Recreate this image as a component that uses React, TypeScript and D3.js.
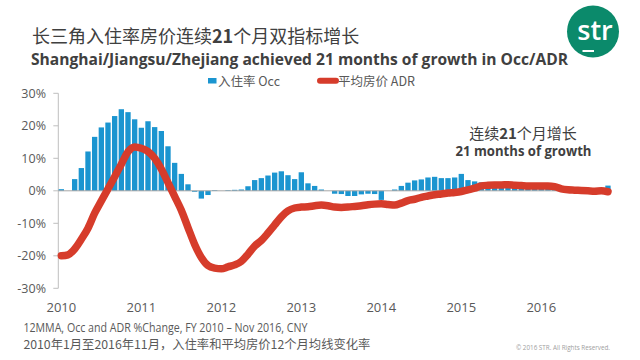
import React from 'react';
import * as d3 from 'd3';

// monthly 12MMA % change, Jan 2010 - Nov 2016
const occ = [
  0.5, 0, 3.6, 7.0, 12.1, 16.6, 19.5, 21.0, 23.0, 25.1, 24.2, 22.0,
  19.4, 21.4, 19.6, 18.4, 13.7, 8.6, 5.2, 2.0, -0.3, -2.4, -1.3, 0.2,
  0.0, 0.2, 0.3, 0.4, 1.4, 3.3, 3.9, 4.7, 5.6, 6.0, 4.8, 3.6,
  5.7, 2.3, 1.5, 0.4, 0.0, -0.9, -1.0, -1.6, -1.6, -1.1, -0.9, -1.0,
  -2.8, 0.0, 0.4, 1.5, 2.5, 3.2, 3.5, 4.1, 4.3, 3.9, 3.9, 4.1,
  5.2, 3.3, 2.9, 2.6, 2.0, 1.8, 1.6, 1.5, 1.4, 1.4, 1.3, 1.3,
  1.2, 1.2, 1.1, 1.0, 0.9, 0.8, 0.8, 0.7, 0.8, 0.9, 1.6,
];

const adr = [
  -20.0, -19.7, -17.9, -14.9, -11.5, -6.9, -3.1, 0.6, 4.3, 8.2, 12.0, 13.5,
  13.1, 12.1, 10.0, 6.7, 2.5, -1.7, -6.0, -11.3, -16.5, -20.5, -23.0, -23.8,
  -24.0, -23.4, -22.8, -21.7, -19.5, -17.0, -15.3, -13.0, -10.5, -8.0, -6.2, -5.3,
  -5.0, -4.9, -4.6, -4.4, -4.6, -5.0, -5.1, -5.0, -4.8, -4.6, -4.3, -4.1,
  -4.0, -4.2, -4.4, -3.8, -3.0, -2.6, -2.0, -1.6, -1.2, -1.0, -0.7, -0.5,
  -0.2, 0.3, 0.8, 1.5, 1.7, 1.8, 1.8, 1.9, 1.7, 1.6, 1.5, 1.5,
  1.5, 1.5, 1.3, 0.6, 0.3, 0.2, 0.1, 0.0, -0.1, 0.0, -0.3,
];

const years = ['2010', '2011', '2012', '2013', '2014', '2015', '2016'];
const yTicks = [30, 20, 10, 0, -10, -20, -30];

const W = 640;
const H = 360;
const cjk = '"Noto Sans CJK SC", "Noto Sans", sans-serif';
const latin = '"Open Sans", "Noto Sans CJK SC", sans-serif';
const grey = '#595959';
const blue = '#1b95d0';
const red = '#d63c2b';

export default function App() {
  const months = d3.range(occ.length);
  const x = d3.scaleBand<number>().domain(months).range([58, 611.3]).paddingInner(0.2).paddingOuter(0.1);
  const cx = (i: number) => (x(i) as number) + x.bandwidth() / 2;
  const y = d3.scaleLinear().domain([-30, 30]).range([288.3, 93.3]);

  const line = d3.line<number>()
    .x((_, i) => cx(i))
    .y(d => y(d))
    .curve(d3.curveMonotoneX);

  return (
    <svg width={W} height={H} style={{ position: 'absolute', left: 0, top: 0, background: '#fff' }}>
      {/* titles */}
      <text x={32} y={43} fontFamily={cjk} fontSize={18} fill="#404040">
        长三角入住率房价连续<tspan fontWeight="bold">21</tspan>个月双指标增长
      </text>
      <text x={31} y={64.5} fontFamily={latin} fontSize={16.5} fontWeight="bold" fill="#404040"
        textLength={537} lengthAdjust="spacingAndGlyphs">
        Shanghai/Jiangsu/Zhejiang achieved 21 months of growth in Occ/ADR
      </text>

      {/* logo */}
      <circle cx={593} cy={31.5} r={26} fill="#0b8a6b" />
      <text x={595} y={40} textAnchor="middle" fontFamily={latin} fontSize={27} fontWeight={600} fill="#fff">str</text>
      <line x1={582.5} x2={594} y1={51} y2={51} stroke="#fff" strokeWidth={2} />

      {/* legend */}
      <rect x={208} y={78} width={8.5} height={5.5} fill={blue} />
      <text x={218} y={86} fontFamily={cjk} fontSize={12.5} fill={grey}>入住率 Occ</text>
      <line x1={320} x2={336} y1={80.8} y2={80.8} stroke={red} strokeWidth={6} strokeLinecap="round" />
      <text x={338} y={86} fontFamily={cjk} fontSize={12.5} fill={grey}>平均房价 ADR</text>

      {/* y axis */}
      <line x1={58.3} x2={58.3} y1={y(30)} y2={y(-30)} stroke="#bfbfbf" strokeWidth={1} />
      {yTicks.map(t => (
        <g key={t}>
          <line x1={53.3} x2={58.3} y1={y(t)} y2={y(t)} stroke="#bfbfbf" />
          <text x={46} y={y(t) + 4.5} textAnchor="end" fontFamily={latin} fontSize={12.5} fill={grey}>{t}%</text>
        </g>
      ))}

      {/* bars */}
      {occ.map((v, i) => (
        <rect key={i} x={x(i)} width={x.bandwidth()} y={y(Math.max(0, v))}
          height={Math.abs(y(v) - y(0))} fill={blue} />
      ))}
      <line x1={58.3} x2={611.3} y1={y(0)} y2={y(0)} stroke="#a6a6a6" strokeWidth={1} />

      {/* ADR line */}
      <path d={line(adr) || ''} fill="none" stroke={red} strokeWidth={7.5} strokeLinecap="round" strokeLinejoin="round" />

      {/* x labels */}
      {years.map((yr, k) => (
        <text key={yr} x={cx(k * 12)} y={312} textAnchor="middle" fontFamily={latin} fontSize={13} fill={grey}>{yr}</text>
      ))}

      {/* annotation */}
      <text x={523} y={139} textAnchor="middle" fontFamily={cjk} fontSize={15} fill="#404040">
        连续<tspan fontWeight="bold">21</tspan>个月增长
      </text>
      <text x={523.5} y={156} textAnchor="middle" fontFamily={latin} fontSize={14.5} fontWeight="bold" fill="#404040"
        textLength={136} lengthAdjust="spacingAndGlyphs">21 months of growth</text>

      {/* footnotes */}
      <text x={23.4} y={332} fontFamily={latin} fontSize={12} fill={grey}
        textLength={284} lengthAdjust="spacingAndGlyphs">12MMA, Occ and ADR %Change, FY 2010 – Nov 2016, CNY</text>
      <text x={23.4} y={349} fontFamily={cjk} fontSize={12.3} fill={grey}>
        2010年1月至2016年11月，入住率和平均房价12个月均线变化率
      </text>
      <text x={516} y={349.5} fontFamily={latin} fontSize={6.5} fill="#a0a0a0"
        textLength={94} lengthAdjust="spacingAndGlyphs">© 2016 STR. All Rights Reserved.</text>
    </svg>
  );
}
